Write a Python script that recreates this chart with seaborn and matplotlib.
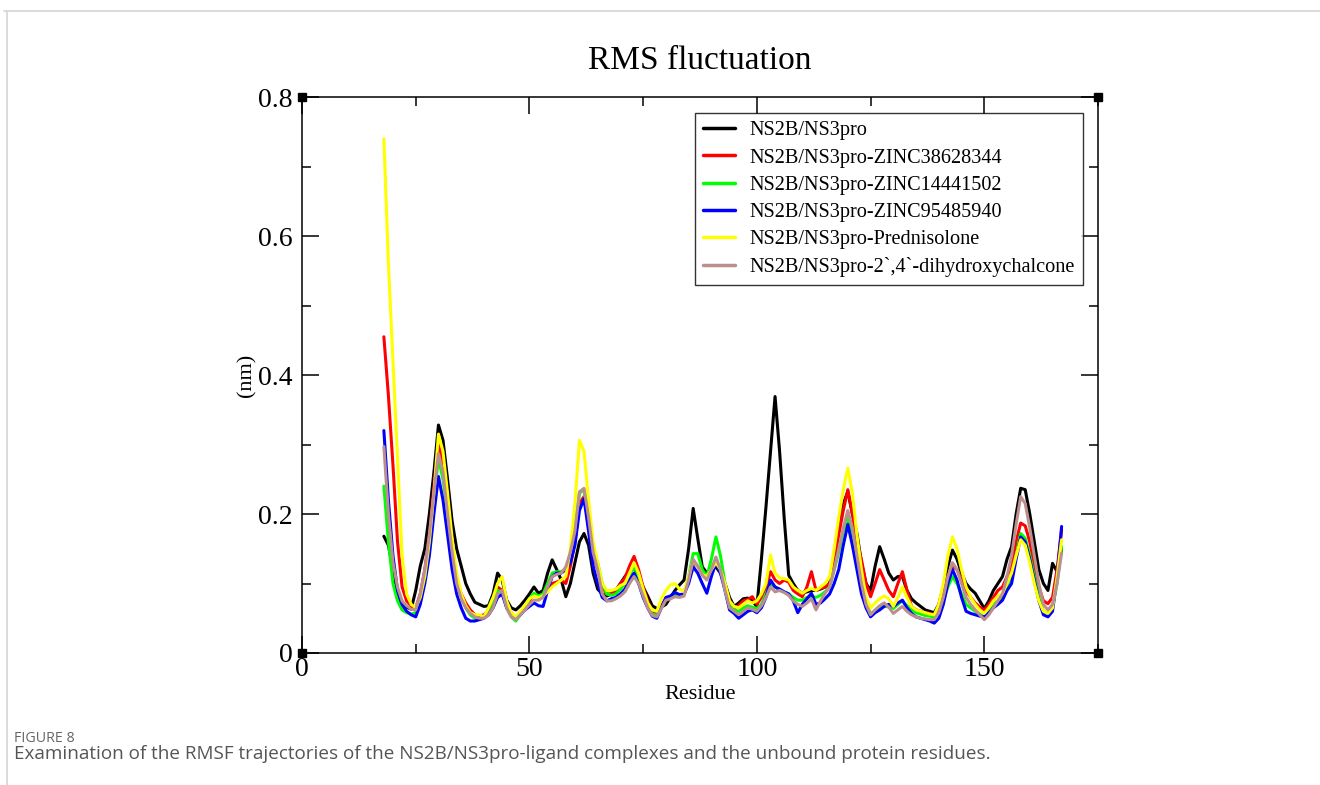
import numpy as np
import pandas as pd
import matplotlib
matplotlib.use("Agg")
import matplotlib.pyplot as plt
from matplotlib.lines import Line2D
import seaborn as sns

residues = list(range(18, 168))

ns2b_ns3pro = [
    0.168, 0.155, 0.120, 0.085, 0.070, 0.066, 0.063, 0.090, 0.125, 0.150,   # 18-27
    0.200, 0.260, 0.328, 0.306, 0.250, 0.190, 0.150, 0.125, 0.100, 0.085,   # 28-37
    0.073, 0.070, 0.067, 0.068, 0.085, 0.115, 0.105, 0.076, 0.065, 0.062,   # 38-47
    0.068, 0.076, 0.085, 0.095, 0.086, 0.090, 0.115, 0.134, 0.120, 0.105,   # 48-57
    0.081, 0.100, 0.130, 0.160, 0.172, 0.155, 0.115, 0.092, 0.085, 0.082,   # 58-67
    0.085, 0.090, 0.100, 0.110, 0.118, 0.123, 0.110, 0.095, 0.082, 0.068,   # 68-77
    0.064, 0.066, 0.070, 0.080, 0.090, 0.098, 0.105, 0.150, 0.208, 0.165,   # 78-87
    0.124, 0.115, 0.120, 0.124, 0.115, 0.100, 0.080, 0.067, 0.072, 0.078,   # 88-97
    0.079, 0.075, 0.067, 0.135, 0.210, 0.290, 0.369, 0.290, 0.195, 0.112,   # 98-107
    0.100, 0.090, 0.086, 0.088, 0.090, 0.090, 0.092, 0.095, 0.100, 0.143,   # 108-117
    0.180, 0.215, 0.232, 0.200, 0.172, 0.130, 0.100, 0.090, 0.125, 0.153,   # 118-127
    0.135, 0.115, 0.105, 0.110, 0.110, 0.090, 0.078, 0.072, 0.067, 0.062,   # 128-137
    0.060, 0.058, 0.070, 0.095, 0.125, 0.148, 0.135, 0.115, 0.100, 0.092,   # 138-147
    0.086, 0.075, 0.064, 0.075, 0.090, 0.100, 0.110, 0.135, 0.153, 0.200,   # 148-157
    0.237, 0.235, 0.200, 0.160, 0.120, 0.100, 0.090, 0.129, 0.117, 0.150,   # 158-167
]

zinc38628344 = [
    0.455, 0.370, 0.270, 0.160, 0.095, 0.075, 0.068, 0.065, 0.085, 0.120,
    0.170, 0.240, 0.300, 0.275, 0.210, 0.150, 0.105, 0.085, 0.072, 0.062,
    0.055, 0.053, 0.055, 0.060, 0.075, 0.095, 0.090, 0.072, 0.058, 0.050,
    0.058, 0.065, 0.075, 0.085, 0.080, 0.082, 0.090, 0.100, 0.102, 0.105,
    0.100, 0.125, 0.160, 0.215, 0.225, 0.190, 0.140, 0.120, 0.095, 0.085,
    0.085, 0.090, 0.100, 0.108, 0.125, 0.139, 0.120, 0.095, 0.075, 0.060,
    0.058, 0.068, 0.078, 0.080, 0.082, 0.082, 0.085, 0.105, 0.130, 0.125,
    0.115, 0.110, 0.120, 0.134, 0.120, 0.095, 0.070, 0.065, 0.068, 0.075,
    0.077, 0.081, 0.070, 0.080, 0.095, 0.117, 0.105, 0.100, 0.105, 0.102,
    0.090, 0.085, 0.081, 0.095, 0.117, 0.090, 0.093, 0.095, 0.100, 0.130,
    0.170, 0.205, 0.235, 0.200, 0.160, 0.134, 0.100, 0.081, 0.100, 0.120,
    0.105, 0.090, 0.081, 0.100, 0.117, 0.090, 0.067, 0.062, 0.060, 0.058,
    0.057, 0.055, 0.065, 0.085, 0.110, 0.125, 0.120, 0.105, 0.090, 0.080,
    0.072, 0.066, 0.062, 0.070, 0.080, 0.090, 0.095, 0.110, 0.125, 0.160,
    0.187, 0.183, 0.160, 0.125, 0.095, 0.075, 0.071, 0.080, 0.120, 0.177,
]

zinc14441502 = [
    0.240, 0.160, 0.100, 0.075, 0.062, 0.058, 0.056, 0.058, 0.080, 0.110,
    0.160, 0.220, 0.280, 0.250, 0.200, 0.145, 0.100, 0.080, 0.065, 0.055,
    0.050, 0.050, 0.052, 0.055, 0.070, 0.090, 0.088, 0.065, 0.052, 0.046,
    0.055, 0.067, 0.078, 0.086, 0.082, 0.085, 0.100, 0.115, 0.117, 0.117,
    0.120, 0.140, 0.175, 0.230, 0.235, 0.190, 0.145, 0.130, 0.100, 0.085,
    0.083, 0.085, 0.092, 0.100, 0.112, 0.124, 0.110, 0.090, 0.070, 0.056,
    0.054, 0.065, 0.077, 0.080, 0.083, 0.082, 0.085, 0.110, 0.143, 0.143,
    0.120, 0.110, 0.135, 0.167, 0.140, 0.100, 0.070, 0.062, 0.060, 0.065,
    0.068, 0.066, 0.064, 0.070, 0.085, 0.100, 0.095, 0.090, 0.088, 0.085,
    0.080, 0.076, 0.076, 0.080, 0.082, 0.080, 0.083, 0.088, 0.095, 0.120,
    0.145, 0.175, 0.195, 0.170, 0.130, 0.095, 0.070, 0.057, 0.060, 0.065,
    0.068, 0.066, 0.064, 0.070, 0.075, 0.068, 0.062, 0.058, 0.056, 0.054,
    0.053, 0.052, 0.058, 0.075, 0.095, 0.110, 0.100, 0.085, 0.070, 0.065,
    0.060, 0.056, 0.052, 0.060, 0.070, 0.075, 0.080, 0.095, 0.110, 0.140,
    0.172, 0.165, 0.140, 0.110, 0.080, 0.060, 0.057, 0.065, 0.100, 0.153,
]

zinc95485940 = [
    0.320, 0.220, 0.140, 0.090, 0.070, 0.060, 0.055, 0.052, 0.070, 0.100,
    0.140, 0.200, 0.254, 0.220, 0.170, 0.120, 0.085, 0.065, 0.050, 0.046,
    0.046, 0.048, 0.050, 0.055, 0.065, 0.080, 0.085, 0.065, 0.055, 0.050,
    0.055, 0.062, 0.067, 0.072, 0.068, 0.067, 0.090, 0.110, 0.115, 0.115,
    0.120, 0.130, 0.155, 0.205, 0.222, 0.175, 0.125, 0.100, 0.080, 0.075,
    0.078, 0.080, 0.085, 0.092, 0.105, 0.115, 0.100, 0.080, 0.065, 0.053,
    0.050, 0.065, 0.080, 0.082, 0.087, 0.084, 0.085, 0.100, 0.124, 0.115,
    0.100, 0.086, 0.110, 0.130, 0.115, 0.090, 0.062, 0.057, 0.050, 0.055,
    0.060, 0.062, 0.058, 0.065, 0.080, 0.105, 0.095, 0.092, 0.088, 0.085,
    0.075, 0.058, 0.070, 0.078, 0.086, 0.070, 0.072, 0.078, 0.085, 0.100,
    0.120, 0.155, 0.185, 0.155, 0.120, 0.085, 0.065, 0.052, 0.058, 0.062,
    0.067, 0.070, 0.067, 0.072, 0.076, 0.065, 0.057, 0.052, 0.050, 0.048,
    0.046, 0.043, 0.050, 0.070, 0.100, 0.120, 0.105, 0.080, 0.060, 0.057,
    0.055, 0.053, 0.052, 0.058, 0.065, 0.070, 0.076, 0.090, 0.100, 0.135,
    0.167, 0.160, 0.135, 0.105, 0.075, 0.055, 0.052, 0.060, 0.110, 0.182,
]

prednisolone = [
    0.740, 0.560, 0.420, 0.280, 0.140, 0.085, 0.070, 0.065, 0.080, 0.110,
    0.160, 0.230, 0.315, 0.290, 0.230, 0.165, 0.115, 0.085, 0.068, 0.058,
    0.055, 0.055, 0.052, 0.065, 0.080, 0.100, 0.110, 0.075, 0.058, 0.052,
    0.060, 0.069, 0.078, 0.082, 0.080, 0.082, 0.088, 0.095, 0.100, 0.105,
    0.110, 0.150, 0.215, 0.306, 0.290, 0.220, 0.160, 0.130, 0.100, 0.090,
    0.090, 0.092, 0.097, 0.100, 0.115, 0.130, 0.115, 0.092, 0.072, 0.062,
    0.060, 0.078, 0.090, 0.098, 0.100, 0.092, 0.088, 0.110, 0.133, 0.125,
    0.113, 0.110, 0.120, 0.130, 0.120, 0.100, 0.075, 0.067, 0.065, 0.070,
    0.075, 0.072, 0.075, 0.085, 0.100, 0.141, 0.115, 0.108, 0.107, 0.105,
    0.095, 0.090, 0.086, 0.090, 0.093, 0.090, 0.095, 0.100, 0.110, 0.150,
    0.195, 0.235, 0.266, 0.230, 0.170, 0.120, 0.080, 0.065, 0.072, 0.078,
    0.082, 0.078, 0.067, 0.080, 0.095, 0.080, 0.067, 0.062, 0.060, 0.058,
    0.056, 0.055, 0.070, 0.100, 0.140, 0.167, 0.150, 0.120, 0.095, 0.080,
    0.070, 0.062, 0.057, 0.065, 0.075, 0.082, 0.086, 0.100, 0.115, 0.140,
    0.163, 0.155, 0.130, 0.100, 0.075, 0.060, 0.057, 0.065, 0.110, 0.163,
]

dihydroxychalcone = [
    0.297, 0.200, 0.130, 0.095, 0.075, 0.068, 0.063, 0.062, 0.085, 0.120,
    0.170, 0.230, 0.287, 0.260, 0.200, 0.145, 0.100, 0.078, 0.065, 0.057,
    0.052, 0.050, 0.050, 0.055, 0.065, 0.085, 0.090, 0.065, 0.052, 0.048,
    0.055, 0.062, 0.070, 0.076, 0.076, 0.080, 0.095, 0.110, 0.113, 0.115,
    0.124, 0.145, 0.175, 0.232, 0.237, 0.195, 0.145, 0.120, 0.085, 0.075,
    0.075, 0.078, 0.082, 0.088, 0.100, 0.110, 0.100, 0.082, 0.065, 0.054,
    0.052, 0.064, 0.076, 0.078, 0.081, 0.080, 0.082, 0.105, 0.135, 0.125,
    0.112, 0.105, 0.120, 0.138, 0.120, 0.090, 0.065, 0.060, 0.055, 0.060,
    0.065, 0.063, 0.060, 0.068, 0.080, 0.095, 0.088, 0.090, 0.087, 0.083,
    0.075, 0.070, 0.067, 0.072, 0.078, 0.062, 0.075, 0.086, 0.095, 0.120,
    0.150, 0.180, 0.205, 0.180, 0.140, 0.100, 0.070, 0.055, 0.062, 0.068,
    0.072, 0.066, 0.057, 0.062, 0.067, 0.060, 0.055, 0.052, 0.050, 0.049,
    0.048, 0.048, 0.058, 0.080, 0.110, 0.130, 0.120, 0.100, 0.080, 0.070,
    0.062, 0.055, 0.048, 0.055, 0.065, 0.075, 0.085, 0.110, 0.140, 0.185,
    0.225, 0.215, 0.180, 0.140, 0.100, 0.070, 0.062, 0.070, 0.100, 0.144,
]

series_names = [
    "NS2B/NS3pro",
    "NS2B/NS3pro-ZINC38628344",
    "NS2B/NS3pro-ZINC14441502",
    "NS2B/NS3pro-ZINC95485940",
    "NS2B/NS3pro-Prednisolone",
    "NS2B/NS3pro-2`,4`-dihydroxychalcone",
]
series_values = [ns2b_ns3pro, zinc38628344, zinc14441502,
                 zinc95485940, prednisolone, dihydroxychalcone]
series_colors = ["#000000", "#ff0000", "#00ff00", "#0000ff", "#ffff00", "#bc8f8f"]

x_ticks = [0, 50, 100, 150]
x_tick_labels = ["0", "50", "100", "150"]
y_ticks = [0, 0.2, 0.4, 0.6, 0.8]
y_tick_labels = ["0", "0.2", "0.4", "0.6", "0.8"]

frames = []
for name, vals in zip(series_names, series_values):
    frames.append(pd.DataFrame({"Residue": residues, "RMSF": vals, "Complex": name}))
df = pd.concat(frames, ignore_index=True)

sns.set_theme(style="ticks")
plt.rcParams["font.family"] = ["Liberation Serif", "DejaVu Serif"]
plt.rcParams["text.color"] = "black"
plt.rcParams["axes.labelcolor"] = "black"
plt.rcParams["xtick.color"] = "black"
plt.rcParams["ytick.color"] = "black"

W, H = 1320, 785
fig = plt.figure(figsize=(W / 100, H / 100), dpi=100)
ax = fig.add_axes([302 / W, 1 - 653 / H, 796 / W, 556 / H])

sns.lineplot(data=df, x="Residue", y="RMSF", hue="Complex", hue_order=series_names,
             palette=dict(zip(series_names, series_colors)), estimator=None,
             sort=False, linewidth=2.2, ax=ax)

ax.set_xlim(0, 175)
ax.set_ylim(0, 0.8)
ax.set_xticks(x_ticks)
ax.set_xticklabels(x_tick_labels)
ax.set_yticks(y_ticks)
ax.set_yticklabels(y_tick_labels)
ax.set_xticks([25, 75, 125, 175], minor=True)
ax.set_yticks([0.1, 0.3, 0.5, 0.7], minor=True)
ax.tick_params(which="both", direction="in", top=True, right=True, colors="black",
               width=1.1)
ax.tick_params(which="major", length=12, labelsize=20)
ax.tick_params(which="minor", length=6.5)
ax.tick_params(axis="y", which="major", pad=7)
ax.tick_params(axis="x", which="major", pad=3)
for s in ax.spines.values():
    s.set_linewidth(1.1)
    s.set_color("black")

ax.set_xlabel("Residue", fontsize=16, labelpad=2, color="black")
ax.set_ylabel("(nm)", fontsize=16, labelpad=1.0, color="black")
ax.set_title("RMS fluctuation", fontsize=24, pad=20, color="black")

# corner markers as drawn by Grace
ax.plot([0, 0, 1, 1], [0, 1, 0, 1], transform=ax.transAxes, linestyle="none",
        marker="s", markersize=6, color="black", clip_on=False)

handles, labels = ax.get_legend_handles_labels()
leg = ax.legend(handles, labels, loc="upper right", bbox_to_anchor=(0.981, 0.971),
                borderaxespad=0, frameon=True, fancybox=False, edgecolor="black",
                fontsize=14.6, handlelength=1.6, handletextpad=0.7,
                labelspacing=0.39, borderpad=0.4)
leg.get_frame().set_linewidth(1.0)
for h in leg.get_lines():
    h.set_linewidth(2.5)
for t in leg.get_texts():
    t.set_color("black")

# page frame lines
fig.add_artist(Line2D([4 / W, 1], [1 - 11 / H, 1 - 11 / H], transform=fig.transFigure,
                      color="#d4d4d4", linewidth=1.2))
fig.add_artist(Line2D([7 / W, 7 / W], [0, 1 - 11 / H], transform=fig.transFigure,
                      color="#d4d4d4", linewidth=1.2))

cap_font = ["Open Sans", "DejaVu Sans"]
fig.text(14 / W, 1 - 739 / H, "FIGURE 8", fontsize=10.3, color="#666666",
         family=cap_font, va="center", ha="left")
fig.text(14 / W, 1 - 754 / H,
         "Examination of the RMSF trajectories of the NS2B/NS3pro-ligand complexes and the unbound protein residues.",
         fontsize=13.6, color="#555555", family=cap_font, va="center", ha="left")

fig.savefig("out.png", dpi=100)
